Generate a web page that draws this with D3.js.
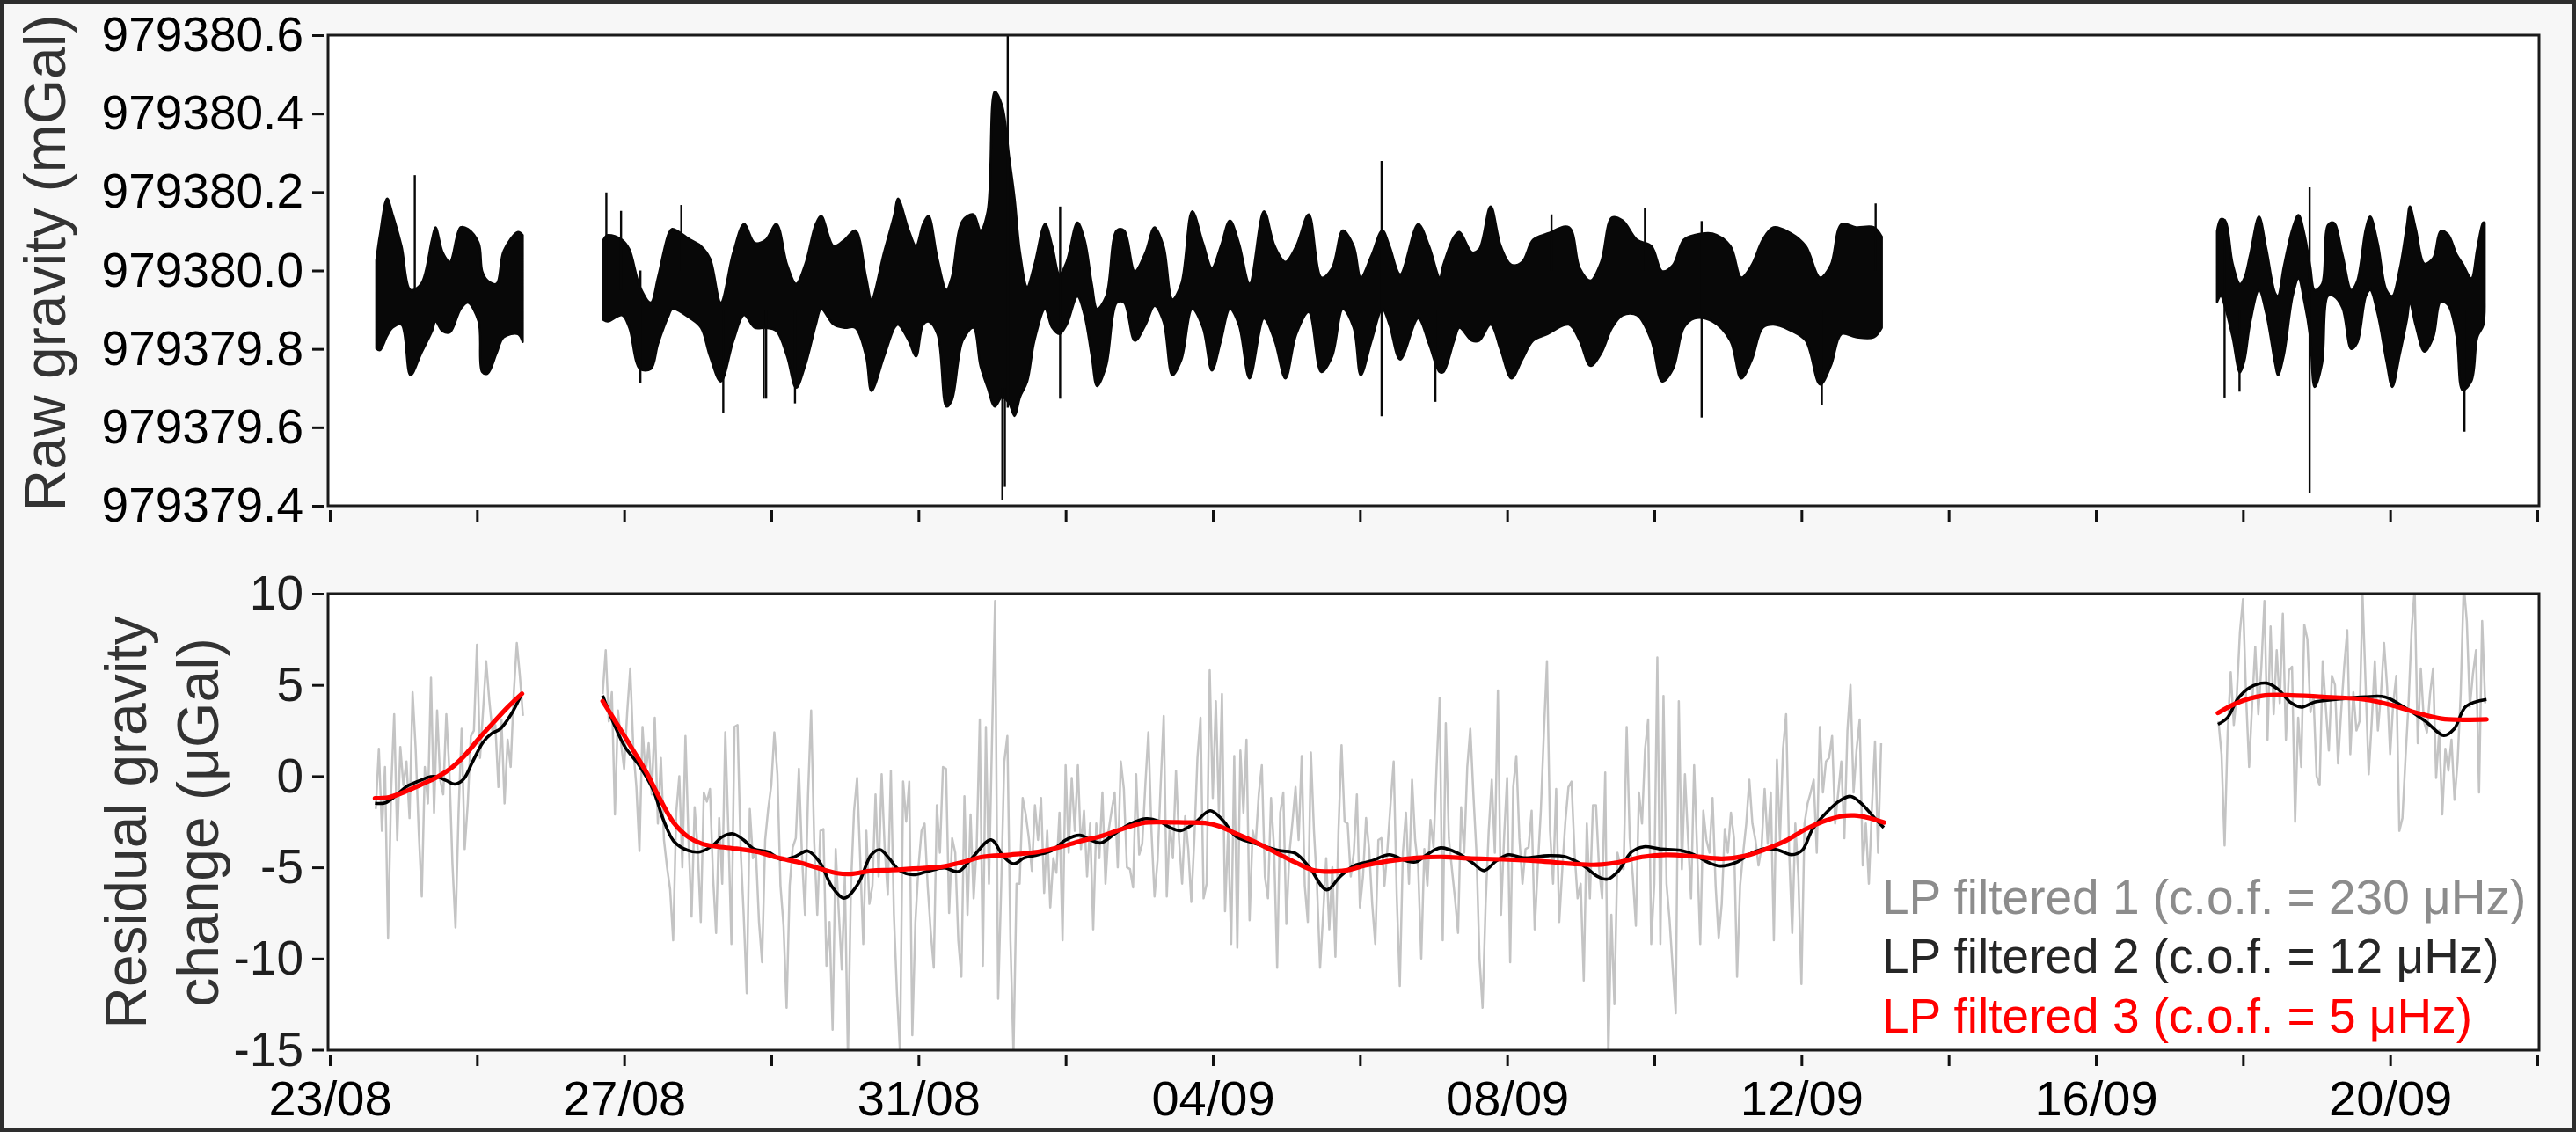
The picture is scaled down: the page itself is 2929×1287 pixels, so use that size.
<!DOCTYPE html>
<html><head><meta charset="utf-8">
<script src="https://cdn.jsdelivr.net/npm/d3@7"></script>
<style>
html,body{margin:0;padding:0;background:#f7f7f7;}
svg{display:block;font-family:"Liberation Sans",Arial,Helvetica,sans-serif;}
</style></head><body>
<svg id="chart" width="2929" height="1287"></svg>
<script>
// ---------- DATA ----------
const ORIGIN = Date.UTC(2017, 7, 23);   // 23/08 00:00 = day 0
const DAY = 864e5;
const xTickDays = [0,2,4,6,8,10,12,14,16,18,20,22,24,26,28,30];
const rawTicks = [979379.4, 979379.6, 979379.8, 979380.0, 979380.2, 979380.4, 979380.6];
const resTicks = [-15, -10, -5, 0, 5, 10];
const RAW_BASE = 979380.0;   // raw values below are offsets (mGal) from this

// Raw gravity: upper / lower envelope of the dense 1-s record (mGal offsets)
const raw1Days = [0.633,0.681,0.779,0.852,0.974,1.096,1.242,1.388,1.437,1.534,1.632,1.778,1.876,2.022,2.071,2.144,2.266,2.364,2.558,2.621];
const raw1Hi = [0.026,0.090,0.183,0.143,0.062,-0.050,-0.034,0.078,0.110,0.046,0.022,0.110,0.106,0.070,-0.002,-0.026,-0.034,0.050,0.098,0.090];
const raw1Lo = [-0.199,-0.203,-0.166,-0.146,-0.138,-0.267,-0.211,-0.155,-0.130,-0.155,-0.158,-0.098,-0.082,-0.130,-0.259,-0.263,-0.211,-0.170,-0.162,-0.182];

const raw2Days = [3.719,3.777,3.972,4.070,4.216,4.362,4.460,4.606,4.655,4.899,5.045,5.167,5.313,5.484,5.630,5.776,5.922,6.069,6.215,6.337,6.459,6.605,6.678,6.849,6.995,7.141,7.288,7.361,7.532,
 7.673,7.722,7.868,7.966,8.063,8.136,8.258,8.380,8.453,8.600,8.746,8.843,8.941,9.038,9.136,9.233,9.306,9.379,9.477,9.575,9.721,9.818,9.916,10.014,10.160,10.257,10.355,10.428,10.550,10.696,10.794,10.940,11.086,11.208,11.330,11.451,11.573,11.720,11.866,11.988,12.110,12.232,12.354,12.500,12.695,12.841,12.987,13.134,13.304,13.475,13.621,13.767,13.914,14.011,14.157,14.304,14.401,14.547,14.791,14.938,15.084,
 15.133,15.279,15.352,15.523,15.620,15.776,15.913,16.059,16.205,16.352,16.547,16.839,16.986,17.132,17.278,17.425,17.571,17.766,17.961,18.107,18.254,18.400,18.546,18.790,19.034,19.180,19.326,19.473,19.619,19.863,20.058,20.253,20.399,20.545,20.740,20.984,21.091];
const raw2Hi = [0.078,0.090,0.078,0.054,-0.042,-0.082,-0.018,0.094,0.106,0.078,0.062,0.030,-0.082,0.046,0.118,0.070,0.078,0.118,0.014,-0.034,0.014,0.118,0.139,0.062,0.078,0.102,-0.018,-0.074,0.046,
 0.143,0.183,0.102,0.062,0.118,0.139,0.030,-0.050,-0.018,0.127,0.143,0.102,0.151,0.456,0.420,0.287,0.183,0.046,-0.042,0.014,0.118,0.062,-0.010,0.022,0.122,0.078,-0.034,-0.098,-0.066,0.102,0.102,-0.002,0.046,0.110,0.062,-0.074,-0.034,0.151,0.070,0.006,0.062,0.127,0.070,-0.034,0.151,0.062,0.022,0.062,0.143,-0.018,0.006,0.102,0.062,-0.018,0.038,0.102,0.062,-0.010,0.118,0.062,-0.018,
 0.014,0.086,0.098,0.046,0.054,0.163,0.062,0.014,0.022,0.078,0.094,0.110,0.006,-0.026,0.022,0.135,0.127,0.078,0.062,-0.002,0.014,0.078,0.090,0.094,0.062,-0.018,0.014,0.078,0.110,0.094,0.062,-0.018,0.014,0.118,0.110,0.110,0.086];
const raw2Lo = [-0.126,-0.130,-0.114,-0.146,-0.251,-0.251,-0.187,-0.114,-0.098,-0.122,-0.146,-0.219,-0.283,-0.179,-0.114,-0.146,-0.146,-0.154,-0.219,-0.299,-0.243,-0.138,-0.098,-0.138,-0.146,-0.146,-0.219,-0.307,-0.219,
 -0.146,-0.138,-0.179,-0.219,-0.138,-0.130,-0.162,-0.347,-0.331,-0.179,-0.146,-0.243,-0.299,-0.347,-0.323,-0.339,-0.371,-0.323,-0.283,-0.179,-0.098,-0.146,-0.162,-0.138,-0.066,-0.114,-0.219,-0.295,-0.243,-0.082,-0.082,-0.179,-0.138,-0.090,-0.130,-0.267,-0.227,-0.098,-0.146,-0.255,-0.179,-0.098,-0.138,-0.275,-0.122,-0.179,-0.275,-0.162,-0.106,-0.259,-0.219,-0.098,-0.146,-0.267,-0.179,-0.098,-0.138,-0.227,-0.122,-0.187,-0.259,
 -0.259,-0.179,-0.146,-0.179,-0.179,-0.138,-0.203,-0.275,-0.227,-0.179,-0.162,-0.138,-0.179,-0.243,-0.211,-0.146,-0.114,-0.114,-0.179,-0.283,-0.251,-0.146,-0.122,-0.130,-0.179,-0.275,-0.227,-0.146,-0.138,-0.154,-0.179,-0.291,-0.243,-0.162,-0.170,-0.170,-0.146];

const raw3Days = [25.648,25.700,25.760,25.859,25.959,26.019,26.098,26.218,26.317,26.437,26.476,26.556,26.675,26.755,26.835,26.914,26.974,27.074,27.153,27.233,27.352,27.472,27.551,27.671,27.730,27.830,27.949,28.029,28.129,28.228,28.268,28.347,28.467,28.586,28.686,28.786,28.905,28.985,29.104,29.184,29.264,29.284];
const raw3Hi = [0.100,0.131,0.126,0.017,-0.035,-0.020,0.040,0.137,0.055,-0.058,-0.065,0.010,0.107,0.141,0.092,0.010,-0.050,-0.035,0.115,0.122,0.040,-0.050,-0.028,0.107,0.137,0.070,-0.050,-0.065,0.002,0.115,0.163,0.107,0.017,0.032,0.100,0.092,0.040,0.017,-0.020,0.055,0.122,0.122];
const raw3Lo = [-0.080,-0.065,-0.095,-0.170,-0.260,-0.230,-0.133,-0.050,-0.110,-0.237,-0.267,-0.215,-0.065,-0.020,-0.080,-0.170,-0.297,-0.237,-0.065,-0.065,-0.095,-0.200,-0.185,-0.065,-0.050,-0.110,-0.230,-0.297,-0.215,-0.125,-0.080,-0.140,-0.207,-0.170,-0.080,-0.088,-0.170,-0.305,-0.282,-0.170,-0.140,-0.080];

// isolated spikes in the raw record (mGal offsets)
const spikeDays = [1.155,3.758,3.958,4.221,4.777,5.347,5.898,5.930,6.322,9.140,9.174,9.213,9.925,14.294,15.025,16.603,17.873,18.643,20.277,21.008,25.750,25.953,26.906,29.010];
const spikeTop = [0.243,0.199,0.152,0.0,0.167,-0.1,-0.1,-0.1,-0.1,-0.3,-0.3,0.6,0.163,0.279,-0.1,0.143,0.160,0.126,-0.1,0.171,0.131,-0.1,0.212,-0.1];
const spikeBottom = [-0.05,-0.05,-0.05,-0.287,0.0,-0.363,-0.327,-0.327,-0.339,-0.585,-0.552,-0.35,-0.327,-0.372,-0.335,0.0,0.0,-0.375,-0.343,0.0,-0.324,-0.309,-0.567,-0.411];

// Residual gravity change (µGal)
// LP filtered 1: hourly values, each segment starting at the given day
const lp1Seg1Start = 0.625;
const lp1Seg1 = [-1.8,1.5,-3.0,0.5,-8.9,-0.8,3.4,-3.5,1.6,-0.5,0.8,-2.3,4.6,1.5,-3.0,-6.6,0.5,-1.5,5.4,-2.0,3.6,-0.2,-1.0,3.4,0.3,-4.8,-8.3,-2.0,2.6,-4.0,-1.5,2.2,2.5,7.2,1.0,3.6,6.3,4.2,2.5,2.8,-0.6,3.1,-1.5,2.0,0.5,4.5,7.3,5.5,3.3];
const lp1Seg2Start = 3.708;
const lp1Seg2 = [4.5,6.9,3.0,4.6,-2.1,3.6,1.8,0.4,3.5,5.9,
 1.5,-0.6,-4.1,2.7,0.0,1.8,-1.0,3.2,-2.6,1.0,
 -3.5,-5.0,-6.2,-9.0,-2.0,0.0,-5.0,2.2,-3.5,-7.7,
 -1.7,-4.0,-8.0,-0.9,-1.4,-0.7,-5.5,-8.6,-2.3,-5.9,
 2.4,-3.0,-9.2,2.7,2.8,-4.0,-7.6,-11.9,-1.8,-4.5,
 -4.2,-8.0,-10.2,-3.5,-1.8,-0.5,2.4,0.1,-6.0,-8.2,
 -12.7,-6.0,-3.9,-3.4,0.4,-4.3,-7.6,-1.0,3.6,-3.6,
 -7.6,-3.0,-2.9,-10.4,-8.0,-13.9,-4.0,-7.4,-10.6,-5.5,
 -15.5,-6.0,-1.9,-0.1,-4.5,-9.2,-3.0,-7.0,
 -6.0,-1.0,-5.5,0.1,-4.0,-6.5,0.3,-7.6,-11.9,-15.2,
 -0.3,-2.5,-0.3,-14.2,-8.0,-5.0,-3.0,-2.6,-6.0,-8.5,
 -10.5,-1.6,-4.2,0.5,0.4,-7.5,-3.4,-4.2,-9.0,-11.0,
 -1.1,-7.6,-2.1,-6.7,-3.9,3.1,-10.4,2.7,-5.9,2.0,
 9.6,-12.2,-6.0,0.8,2.2,-9.0,-15.2,-5.9,-5.9,-1.2,
 -2.1,-3.4,-5.2,-1.6,-3.5,-1.2,-6.4,-3.0,-7.2,-4.5,
 -5.3,-2.0,-9.0,0.6,-4.2,-0.1,-3.0,0.6,-4.0,-1.9,
 -5.5,-2.6,-8.4,-2.6,-4.5,-0.9,-5.9,-3.0,-1.9,-0.9,
 -5.0,0.8,-0.7,-5.0,-5.1,-6.1,0.1,-4.3,-3.7,-0.5,
 2.4,-3.0,-6.6,-4.6,-0.5,3.3,-6.6,-2.6,-4.5,0.3,
 -3.5,-5.9,-2.2,-4.0,-6.9,-3.4,1.0,3.2,-6.7,-5.9,
 5.8,-1.2,4.1,-2.0,4.5,-7.4,-3.0,-9.2,1.1,-9.4,
 1.4,-2.0,2.0,-7.9,-3.0,-3.7,-1.0,0.6,-5.5,-6.7,
 -1.2,-4.0,-10.5,-2.0,-0.9,-8.1,-4.2,-2.5,-0.6,-3.5,
 1.1,-6.0,-8.0,1.3,-3.0,-6.0,-10.5,-7.6,-4.5,-8.4,
 -5.0,-9.9,-3.0,1.7,-2.5,-2.6,-5.5,-4.2,-1.0,-7.2,
 -5.5,-2.3,-4.0,-7.0,-9.2,-3.5,-3.4,-6.0,-3.9,-1.5,
 0.8,-6.5,-11.5,-4.2,-2.0,-5.9,-0.2,-3.5,
 -5.0,-10.0,-4.0,-6.0,-2.4,-3.9,0.5,4.3,-9.0,2.9,
 -3.4,-5.1,-6.7,-8.6,-1.7,-4.2,0.5,2.6,-1.0,-4.2,
 -10.0,-12.7,-7.0,-3.0,-0.2,-4.2,4.7,-7.6,-3.4,-0.1,
 -10.2,-0.6,1.1,-3.4,-5.9,-4.0,-3.9,-1.9,-8.4,-5.0,
 -1.9,2.4,6.3,-3.0,-5.9,-0.7,-8.0,-5.1,-2.5,-0.6,
 -0.3,-4.2,-6.7,-5.9,-11.2,-2.6,-6.7,-1.6,-1.6,-5.1,
 -6.7,0.2,-15.5,-7.6,-12.5,-4.2,-5.0,-5.1,2.7,-3.4,
 -5.5,-8.2,-0.9,-2.6,1.5,3.1,-9.2,-5.9,6.5,-9.2,
 4.4,-5.9,-7.9,-10.5,-13.0,4.1,-5.1,0.1,-3.4,-6.7,
 0.6,-4.2,-9.2,-1.9,-3.5,-4.2,-1.2,-6.0,-8.9,-7.0,
 -2.9,-4.2,-2.0,-3.4,-11.0,-6.0,-4.2,-2.6,-0.2,-2.6,
 -3.5,-4.9,-3.9,-0.7,-3.7,-0.9,-9.0,0.9,-3.5,1.5,
 3.4,-4.2,-8.6,-2.6,-5.5,-11.4,-2.6,-1.5,-0.9,-0.2,
 -4.2,2.7,-0.9,0.8,1.0,2.2,-2.6,-0.9,0.8,-3.4,
 2.5,5.0,-0.9,1.5,3.1,-4.9,-2.6,-5.9,-1.7,1.9,
 -4.2,1.8];
const lp1Seg3Start = 25.667;
const lp1Seg3 = [3.0,1.2,-3.8,2.4,5.7,2.8,4.5,7.9,9.7,4.4,
 0.5,4.0,7.1,3.4,6.0,9.6,2.0,8.2,3.4,6.9,
 4.0,8.9,2.0,5.8,6.0,-2.5,3.2,0.5,8.3,7.5,
 3.5,4.4,0.0,-0.5,6.3,3.8,1.4,5.5,5.0,0.7,
 3.5,6.0,8.0,1.2,4.6,2.5,3.0,9.9,5.0,0.1,
 3.0,6.3,2.5,4.5,7.3,4.9,1.2,4.0,5.5,-3.0,
 -2.3,1.0,4.0,8.0,10.3,1.8,5.9,3.0,2.4,4.5,
 5.9,-0.1,2.5,-2.1,1.5,0.3,2.0,-1.3,0.8,4.5,
 10.5,8.5,3.8,5.6,6.9,-0.9,8.5,4.0];

// LP filtered 2 (day, µGal)
const lp2Seg1Days = [0.614,0.755,0.897,1.039,1.228,1.369,1.464,1.582,1.700,1.819,1.936,2.078,2.196,2.314,2.456,2.612];
const lp2Seg1 = [-1.49,-1.46,-1.07,-0.58,-0.24,-0.03,-0.04,-0.24,-0.44,-0.16,0.75,1.83,2.33,2.58,3.33,4.54];
const lp2Seg2Days = [3.708,3.873,4.015,4.204,4.393,4.534,4.676,4.865,5.030,5.196,5.337,5.479,5.621,5.763,5.951,6.140,6.329,6.495,6.660,6.825,6.991,7.180,
 7.359,7.477,7.595,7.737,7.926,8.115,8.351,8.540,8.729,8.988,9.154,9.296,9.437,9.626,9.815,10.004,10.193,10.335,10.477,10.666,10.855,11.091,11.280,11.422,11.563,11.752,11.965,12.130,12.319,12.555,12.886,13.122,13.311,13.547,13.736,13.925,14.161,14.397,14.633,14.766,
 14.907,15.096,15.332,15.522,15.687,15.852,16.017,16.230,16.560,16.797,17.033,17.222,17.363,17.505,17.694,17.859,18.072,18.356,18.544,18.733,18.899,19.111,19.300,19.489,19.678,19.867,20.009,20.150,20.340,20.528,20.670,20.812,21.001,21.119];
const lp2Seg2 = [4.41,2.75,1.58,0.59,-0.74,-2.40,-3.57,-4.07,-4.15,-3.82,-3.32,-3.16,-3.49,-3.99,-4.15,-4.57,-4.40,-4.10,-4.73,-6.06,-6.69,-5.90,
 -4.31,-4.03,-4.48,-5.15,-5.40,-5.23,-5.03,-5.23,-4.48,-3.49,-4.40,-4.81,-4.48,-4.31,-4.07,-3.49,-3.24,-3.49,-3.66,-3.16,-2.66,-2.33,-2.49,-2.82,-2.99,-2.57,-1.90,-2.40,-3.32,-3.66,-4.07,-4.23,-4.99,-6.23,-5.48,-4.90,-4.65,-4.31,-4.65,-4.70,
 -4.31,-3.93,-4.23,-4.73,-5.18,-4.65,-4.31,-4.48,-4.36,-4.43,-4.90,-5.48,-5.65,-5.23,-4.15,-3.87,-3.99,-4.07,-4.31,-4.73,-4.93,-4.73,-4.27,-3.99,-4.04,-4.31,-4.07,-2.91,-1.99,-1.33,-1.11,-1.49,-2.33,-2.82];
const lp2Seg3Days = [25.66,25.79,25.93,26.09,26.32,26.48,26.65,26.79,26.98,27.26,27.65,27.93,28.21,28.48,28.73,28.87,29.03,29.31];
const lp2Seg3 = [2.84,3.21,4.24,4.85,5.10,4.75,4.03,3.78,4.07,4.20,4.34,4.34,3.73,3.01,2.23,2.59,3.82,4.20];

// LP filtered 3 (day, µGal)
const lp3Seg1Days = [0.614,0.803,0.991,1.228,1.464,1.653,1.842,2.031,2.220,2.408,2.612];
const lp3Seg1 = [-1.21,-1.16,-0.91,-0.49,-0.04,0.45,1.17,2.08,2.92,3.74,4.52];
const lp3Seg2Days = [3.708,3.920,4.110,4.298,4.487,4.676,4.865,5.054,5.243,5.526,5.810,6.093,6.377,6.660,6.896,7.085,7.359,
 7.642,7.926,8.304,8.587,8.870,9.248,9.626,9.910,10.193,10.477,10.760,11.044,11.280,11.610,11.894,12.083,12.271,12.555,12.838,13.122,13.358,13.594,13.831,14.067,14.397,14.766,
 15.143,15.474,15.946,16.419,16.891,17.222,17.505,17.836,18.166,18.544,18.922,19.206,19.489,19.772,20.056,20.292,20.528,20.718,20.907,21.119];
const lp3Seg2 = [4.11,2.75,1.50,0.25,-1.25,-2.57,-3.32,-3.70,-3.85,-3.98,-4.15,-4.48,-4.73,-5.07,-5.32,-5.36,-5.19,
 -5.15,-5.07,-4.98,-4.73,-4.43,-4.31,-4.15,-3.90,-3.57,-3.29,-2.91,-2.57,-2.52,-2.54,-2.57,-2.74,-3.07,-3.57,-4.15,-4.73,-5.15,-5.23,-5.15,-4.90,-4.65,-4.48,
 -4.43,-4.51,-4.56,-4.65,-4.81,-4.86,-4.73,-4.43,-4.31,-4.40,-4.53,-4.40,-4.04,-3.57,-2.91,-2.49,-2.21,-2.16,-2.28,-2.54];
const lp3Seg3Days = [25.66,25.93,26.26,26.59,27.09,27.65,28.04,28.37,28.70,28.98,29.31];
const lp3Seg3 = [3.46,4.03,4.40,4.44,4.34,4.20,3.87,3.46,3.15,3.09,3.11];

const legendLabels = ["LP filtered 1 (c.o.f. = 230 \u03BCHz)", "LP filtered 2 (c.o.f. = 12 \u03BCHz)", "LP filtered 3 (c.o.f. = 5 \u03BCHz)"];
const legendColors = ["#8c8c8c", "#262626", "#ff0000"];

// ---------- DRAWING ----------
const W = 2929, H = 1287;
const svg = d3.select("#chart");
const toDate = d => new Date(ORIGIN + d * DAY);

svg.append("rect").attr("x", 2).attr("y", 2).attr("width", W - 4).attr("height", H - 4)
  .attr("fill", "#f7f7f7").attr("stroke", "#2e2e2e").attr("stroke-width", 4);

const boxL = 373, boxR = 2887;
const panelTop = {y0: 40, y1: 575};
const panelBot = {y0: 675, y1: 1194};

const x = d3.scaleUtc().domain([toDate(0), toDate(30)]).range([375, 2885]);
const yRaw = d3.scaleLinear().domain([979379.4, 979380.6]).range([panelTop.y1, panelTop.y0]);
const yRes = d3.scaleLinear().domain([-15, 10]).range([panelBot.y1 - 0.5, panelBot.y0]);

const defs = svg.append("defs");
defs.append("clipPath").attr("id", "clipTop").append("rect")
  .attr("x", boxL).attr("y", panelTop.y0).attr("width", boxR - boxL).attr("height", panelTop.y1 - panelTop.y0);
defs.append("clipPath").attr("id", "clipBot").append("rect")
  .attr("x", boxL).attr("y", panelBot.y0).attr("width", boxR - boxL).attr("height", panelBot.y1 - panelBot.y0);

// panel backgrounds
[panelTop, panelBot].forEach(p => svg.append("rect").attr("x", boxL).attr("y", p.y0)
  .attr("width", boxR - boxL).attr("height", p.y1 - p.y0).attr("fill", "#ffffff"));

// ---- top panel: raw gravity ----
const gTop = svg.append("g").attr("clip-path", "url(#clipTop)");
const rawSegments = [
  {days: raw1Days, hi: raw1Hi, lo: raw1Lo},
  {days: raw2Days, hi: raw2Hi, lo: raw2Lo},
  {days: raw3Days, hi: raw3Hi, lo: raw3Lo}
];
const area = d3.area()
  .x(d => x(toDate(d.t)))
  .y0(d => yRaw(RAW_BASE + d.lo))
  .y1(d => yRaw(RAW_BASE + d.hi))
  .curve(d3.curveCatmullRom.alpha(0.5));
rawSegments.forEach(s => {
  const pts = s.days.map((t, i) => ({t, hi: s.hi[i], lo: s.lo[i]}));
  gTop.append("path").datum(pts).attr("d", area)
    .attr("fill", "#080808").attr("stroke", "#080808").attr("stroke-width", 2.6)
    .attr("stroke-linejoin", "round");
});
gTop.selectAll("line.spike").data(spikeDays).join("line").attr("class", "spike")
  .attr("x1", d => x(toDate(d))).attr("x2", d => x(toDate(d)))
  .attr("y1", (d, i) => yRaw(RAW_BASE + spikeTop[i]))
  .attr("y2", (d, i) => yRaw(RAW_BASE + spikeBottom[i]))
  .attr("stroke", "#080808").attr("stroke-width", 2.4);

// ---- bottom panel: residuals ----
const gBot = svg.append("g").attr("clip-path", "url(#clipBot)");
const lineRes = d3.line().x(d => x(toDate(d[0]))).y(d => yRes(d[1])).curve(d3.curveLinear);
const hourly = (start, vals) => vals.map((v, i) => [start + i / 24, v]);
[hourly(lp1Seg1Start, lp1Seg1), hourly(lp1Seg2Start, lp1Seg2), hourly(lp1Seg3Start, lp1Seg3)]
  .forEach(pts => gBot.append("path").datum(pts).attr("d", lineRes)
    .attr("fill", "none").attr("stroke", "#c4c4c4").attr("stroke-width", 2.5).attr("stroke-linejoin", "round"));

const smooth = d3.line().x(d => x(toDate(d[0]))).y(d => yRes(d[1])).curve(d3.curveCatmullRom.alpha(0.5));
const pair = (days, vals) => days.map((t, i) => [t, vals[i]]);
[pair(lp2Seg1Days, lp2Seg1), pair(lp2Seg2Days, lp2Seg2), pair(lp2Seg3Days, lp2Seg3)]
  .forEach(pts => gBot.append("path").datum(pts).attr("d", smooth)
    .attr("fill", "none").attr("stroke", "#000000").attr("stroke-width", 3.6).attr("stroke-linejoin", "round"));
[pair(lp3Seg1Days, lp3Seg1), pair(lp3Seg2Days, lp3Seg2), pair(lp3Seg3Days, lp3Seg3)]
  .forEach(pts => gBot.append("path").datum(pts).attr("d", smooth)
    .attr("fill", "none").attr("stroke", "#ff0000").attr("stroke-width", 5.2).attr("stroke-linejoin", "round")
    .attr("stroke-linecap", "round"));

// boxes
[panelTop, panelBot].forEach(p => svg.append("rect").attr("x", boxL).attr("y", p.y0)
  .attr("width", boxR - boxL).attr("height", p.y1 - p.y0)
  .attr("fill", "none").attr("stroke", "#1a1a1a").attr("stroke-width", 3));

// ---- axes ----
function styleAxis(g, fs, color) {
  g.select(".domain").remove();
  g.selectAll(".tick line").attr("stroke", "#111").attr("stroke-width", 3);
  g.selectAll(".tick text").attr("font-size", fs).attr("fill", color)
    .attr("font-family", "'Liberation Sans', Arial, sans-serif");
  g.attr("font-family", null).attr("font-size", null);
}
const tickDates = xTickDays.map(toDate);
const fmtDate = d3.utcFormat("%d/%m");

const axTopX = svg.append("g").attr("transform", `translate(0,${panelTop.y1 + 5})`)
  .call(d3.axisBottom(x).tickValues(tickDates).tickSize(13).tickFormat(""));
styleAxis(axTopX, 56, "#000");

const axBotX = svg.append("g").attr("transform", `translate(0,${panelBot.y1 + 5})`)
  .call(d3.axisBottom(x).tickValues(tickDates).tickSize(13).tickPadding(16)
    .tickFormat((d, i) => i % 2 === 0 ? fmtDate(d) : ""));
styleAxis(axBotX, 56, "#000");

const axTopY = svg.append("g").attr("transform", `translate(${boxL - 5},0)`)
  .call(d3.axisLeft(yRaw).tickValues(rawTicks).tickSize(13).tickPadding(10).tickFormat(d3.format(".1f")));
styleAxis(axTopY, 55, "#000");

const axBotY = svg.append("g").attr("transform", `translate(${boxL - 5},0)`)
  .call(d3.axisLeft(yRes).tickValues(resTicks).tickSize(13).tickPadding(10).tickFormat(d => String(d)));
styleAxis(axBotY, 55, "#1e1e1e");

// ---- titles ----
svg.append("text").attr("transform", "translate(74,299) rotate(-90)")
  .attr("text-anchor", "middle").attr("font-size", 66).attr("fill", "#333")
  .text("Raw gravity (mGal)");
svg.append("text").attr("transform", "translate(166,935) rotate(-90)")
  .attr("text-anchor", "middle").attr("font-size", 66).attr("fill", "#333")
  .text("Residual gravity");
svg.append("text").attr("transform", "translate(248,935) rotate(-90)")
  .attr("text-anchor", "middle").attr("font-size", 66).attr("fill", "#333")
  .text("change (\u03BCGal)");

// ---- legend ----
const legY = [1039, 1106, 1174];
legendLabels.forEach((t, i) => svg.append("text").attr("x", 2140).attr("y", legY[i])
  .attr("font-size", 55).attr("fill", legendColors[i]).text(t));
</script>
</body></html>
